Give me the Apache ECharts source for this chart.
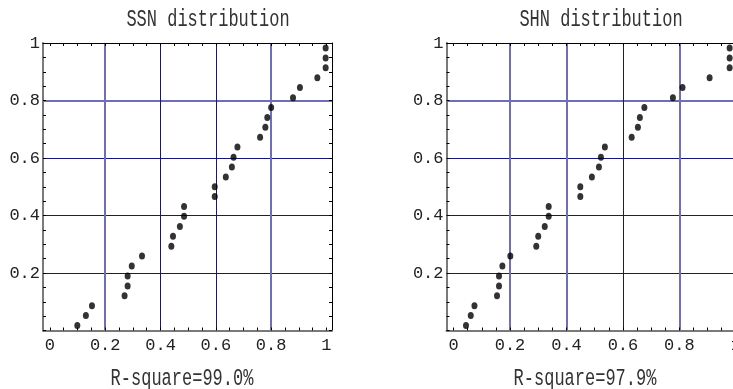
<!DOCTYPE html>
<html>
<head>
<meta charset="UTF-8">
<script src="https://cdn.jsdelivr.net/npm/echarts@6/dist/echarts.min.js"></script>
<style>
  body { margin: 0; padding: 0; background: #ffffff; }
  #chart { width: 733px; height: 389px; }
</style>
</head>
<body>
<div id="chart"></div>
<script>
// cumulative probability of each ranked point (shared by both panels)
const probs = [0.017, 0.052, 0.086, 0.121, 0.155, 0.190, 0.224, 0.259, 0.293, 0.328,
  0.362, 0.397, 0.431, 0.466, 0.500, 0.534, 0.569, 0.603, 0.638, 0.672,
  0.707, 0.741, 0.776, 0.810, 0.845, 0.879, 0.914, 0.948, 0.983];

const ssnValues = [0.099, 0.130, 0.152, 0.270, 0.281, 0.281, 0.296, 0.333, 0.439, 0.445,
  0.470, 0.485, 0.485, 0.596, 0.596, 0.636, 0.658, 0.664, 0.678, 0.760,
  0.779, 0.786, 0.800, 0.879, 0.904, 0.967, 0.997, 0.997, 0.997];

const shnValues = [0.044, 0.061, 0.074, 0.154, 0.161, 0.161, 0.173, 0.201, 0.293, 0.300,
  0.323, 0.337, 0.337, 0.449, 0.449, 0.490, 0.515, 0.522, 0.536, 0.631,
  0.653, 0.660, 0.676, 0.777, 0.811, 0.907, 0.978, 0.978, 0.978];

const xLabels = [0, 0.2, 0.4, 0.6, 0.8, 1];
const yLabels = [0.2, 0.4, 0.6, 0.8, 1];
const tickValues = [0, 0.05, 0.1, 0.15, 0.2, 0.25, 0.3, 0.35, 0.4, 0.45, 0.5,
  0.55, 0.6, 0.65, 0.7, 0.75, 0.8, 0.85, 0.9, 0.95, 1];

// grid lines at 0.2 steps; the original shows some sharp/dark and some soft/light
const ssnGridX = { dark: [0.4, 0.6], light: [0.2, 0.8] };
const ssnGridY = { dark: [0.2, 0.4, 0.6], light: [0.8] };
const shnGridX = { dark: [0.6], light: [0.2, 0.4, 0.8] };
const shnGridY = { dark: [0.2, 0.4, 0.6], light: [0.8] };

const panels = [
  { title: 'SSN distribution', note: 'R-square=99.0%', values: ssnValues, gx: ssnGridX, gy: ssnGridY },
  { title: 'SHN distribution', note: 'R-square=97.9%', values: shnValues, gx: shnGridX, gy: shnGridY }
];

const FONT = '"Liberation Mono", "DejaVu Sans Mono", monospace';
const fmt = v => String(+(+v).toFixed(2));

const layout = [
  { left: 43, top: 43, width: 289, height: 287.5, titleX: 208, noteX: 182 },
  { left: 446.5, top: 43, width: 295, height: 287.5, titleX: 601, noteX: 585 }
];

const tick = { show: true, inside: true, length: 3, customValues: tickValues, lineStyle: { color: '#000', width: 1 } };
const grayLine = { show: true, onZero: false, lineStyle: { color: '#7a7a7a', width: 2 } };
const blackLine = { show: true, onZero: false, lineStyle: { color: '#000', width: 1 } };
const DARK = { color: '#16167e', width: 1 };
const LIGHT = { color: '#6e6ebc', width: 2 };

// hidden axis whose only job is to draw grid lines at the given values
function gridAxis(i, min, max, values, style) {
  return {
    type: 'value', gridIndex: i, min: min, max: max,
    axisLine: { show: false, onZero: false },
    axisTick: { show: false, customValues: values },
    axisLabel: { show: false },
    splitLine: { show: true, lineStyle: style }
  };
}

const grids = [], xAxes = [], yAxes = [], series = [], graphics = [];

panels.forEach((p, i) => {
  const L = layout[i];
  grids.push({ left: L.left, top: L.top, width: L.width, height: L.height, outerBoundsMode: 'none' });

  xAxes.push({
    type: 'value', gridIndex: i, min: -0.025, max: 1.02, position: 'bottom',
    splitLine: { show: false }, axisLine: grayLine, axisTick: tick, z: 3,
    axisLabel: { show: true, customValues: xLabels, formatter: fmt, margin: 6, color: '#222', fontFamily: FONT, fontSize: 17 }
  });
  xAxes.push({
    type: 'value', gridIndex: i, min: -0.025, max: 1.02, position: 'top',
    splitLine: { show: false }, axisLine: blackLine, axisTick: tick, z: 3,
    axisLabel: { show: false }
  });
  xAxes.push(gridAxis(i, -0.025, 1.02, p.gx.dark, DARK));
  xAxes.push(gridAxis(i, -0.025, 1.02, p.gx.light, LIGHT));

  yAxes.push({
    type: 'value', gridIndex: i, min: 0, max: 1, position: 'left',
    splitLine: { show: false }, axisLine: grayLine, axisTick: tick, z: 3,
    axisLabel: { show: true, customValues: yLabels, formatter: fmt, margin: 3, color: '#222', fontFamily: FONT, fontSize: 17 }
  });
  yAxes.push({
    type: 'value', gridIndex: i, min: 0, max: 1, position: 'right',
    splitLine: { show: false }, axisLine: blackLine, axisTick: tick, z: 3,
    axisLabel: { show: false }
  });
  yAxes.push(gridAxis(i, 0, 1, p.gy.dark, DARK));
  yAxes.push(gridAxis(i, 0, 1, p.gy.light, LIGHT));

  series.push({
    type: 'scatter',
    xAxisIndex: i * 4,
    yAxisIndex: i * 4,
    data: p.values.map((x, k) => [x, probs[k]]),
    symbol: 'circle',
    symbolSize: [6, 7],
    itemStyle: { color: '#000' },
    z: 5
  });

  graphics.push({
    type: 'text', x: L.titleX, y: 19, scaleY: 1.45,
    style: { text: p.title, fill: '#333', font: '17px ' + FONT, textAlign: 'center', textVerticalAlign: 'middle' }
  });
  graphics.push({
    type: 'text', x: L.noteX, y: 378, scaleY: 1.45,
    style: { text: p.note, fill: '#333', font: '17px ' + FONT, textAlign: 'center', textVerticalAlign: 'middle' }
  });
});

const chart = echarts.init(document.getElementById('chart'));
chart.setOption({
  animation: false,
  backgroundColor: '#ffffff',
  grid: grids,
  xAxis: xAxes,
  yAxis: yAxes,
  series: series,
  graphic: graphics
});
</script>
</body>
</html>
